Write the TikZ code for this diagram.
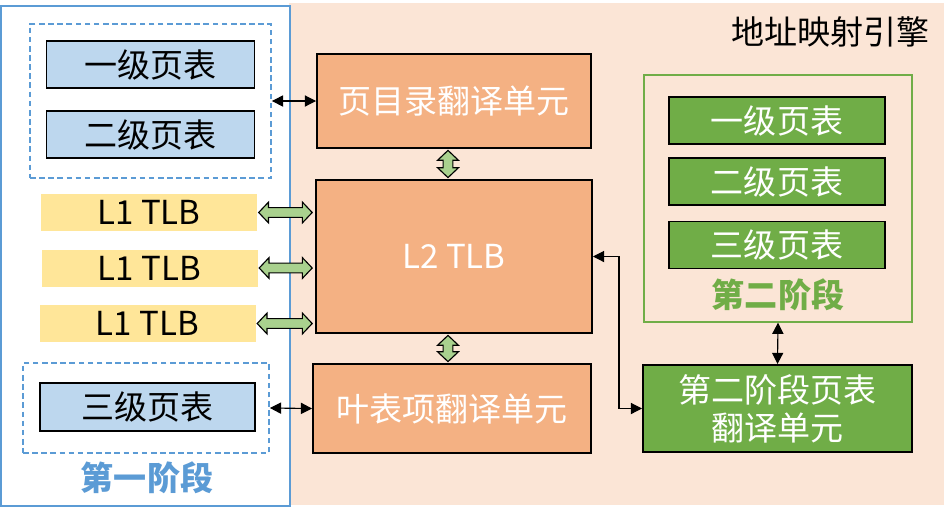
\documentclass[tikz,border=0pt]{standalone}
\usepackage{fontspec}
\setmainfont{Noto Sans CJK SC}
\usetikzlibrary{arrows.meta, positioning, calc}
\definecolor{amepeach}{HTML}{FBE5D6}
\definecolor{ameorange}{HTML}{F4B183}
\definecolor{ameblue}{HTML}{5B9BD5}
\definecolor{amelblue}{HTML}{BDD7EE}
\definecolor{ameyellow}{HTML}{FFE699}
\definecolor{amegreen}{HTML}{70AD47}
\definecolor{amelgreen}{HTML}{A9D18E}
\newcommand{\cnfont}{\fontsize{23.5}{27}\selectfont}
\tikzset{
  unit/.style={rectangle, draw=black, line width=1.4pt, fill=ameorange, text=white,
    font=\cnfont, align=center, inner sep=0pt},
  ptable/.style={rectangle, draw=black, line width=1.4pt, fill=amelblue, minimum width=5.2cm,
    minimum height=1.175cm, font=\cnfont, inner sep=0pt},
  gtable/.style={rectangle, draw=black, line width=1.4pt, fill=amegreen, text=white,
    minimum width=5.4cm, minimum height=1.175cm, font=\cnfont, inner sep=0pt},
  tlb/.style={rectangle, fill=ameyellow, minimum width=5.4cm, minimum height=0.925cm,
    font=\cnfont, inner sep=0pt},
  dashbox/.style={rectangle, draw=ameblue, line width=1.3pt, dash pattern=on 4pt off 2.5pt, inner sep=0pt},
  stagelabel/.style={font=\cnfont\bfseries, inner sep=0pt},
  arr/.style={{Triangle[length=2.8mm, width=2.8mm]}-{Triangle[length=2.8mm, width=2.8mm]},
    line width=0.8pt, black},
  fatarr/.style={draw=black, line width=0.8pt, fill=amelgreen, line join=miter},
}

\begin{document}
\begin{tikzpicture}
  \useasboundingbox (0,0) rectangle (23.725,-12.975);
  % containers
  \node[rectangle, fill=amepeach, minimum width=16.375cm, minimum height=12.55cm, inner sep=0pt]
    (engine) at (15.4125,-6.35) {};
  \node[rectangle, draw=ameblue, fill=white, line width=1.2pt, minimum width=7.225cm,
    minimum height=12.5cm, inner sep=0pt] (stagea) at (3.6375,-6.4) {};
  \node[anchor=east, font=\cnfont, inner sep=0pt] (title) at (23.25,-0.8) {地址映射引擎};

  % first stage
  \node[dashbox, minimum width=6.025cm, minimum height=3.85cm] (dasha) at (3.7625,-2.525) {};
  \node[ptable] (pta) at (3.7625,-1.6125) {一级页表};
  \node[ptable] (ptb) at (3.7625,-3.3625) {二级页表};
  \node[tlb] (tlba) at (3.725,-5.3125) {L1 TLB};
  \node[tlb] (tlbb) at (3.7375,-6.7) {L1 TLB};
  \node[tlb] (tlbc) at (3.6875,-8.0875) {L1 TLB};
  \node[dashbox, minimum width=6.15cm, minimum height=2.25cm] (dashb) at (3.65,-10.2) {};
  \node[ptable, minimum width=5.375cm, minimum height=1.2cm] (ptc) at (3.6875,-10.175) {三级页表};
  \node[stagelabel, text=ameblue] (stagealabel) at (3.675,-11.95) {第一阶段};

  % translation units
  \node[unit, minimum width=6.85cm, minimum height=2.35cm] (dir) at (11.35,-2.525) {页目录翻译单元};
  \node[unit, minimum width=6.9cm, minimum height=3.825cm] (l2) at (11.35,-6.4125) {L2 TLB};
  \node[unit, minimum width=6.95cm, minimum height=2.225cm] (leaf) at (11.3,-10.2125) {叶表项翻译单元};

  % second stage
  \node[rectangle, draw=amegreen, line width=1pt, minimum width=6.7cm, minimum height=6.175cm,
    inner sep=0pt] (stageb) at (19.45,-4.9625) {};
  \node[gtable] (gta) at (19.425,-3.0125) {一级页表};
  \node[gtable] (gtb) at (19.425,-4.5375) {二级页表};
  \node[gtable] (gtc) at (19.425,-6.125) {三级页表};
  \node[stagelabel, text=amegreen] (stageblabel) at (19.45,-7.375) {第二阶段};
  \node[unit, fill=amegreen, minimum width=6.725cm, minimum height=2.175cm] (s2u)
    at (19.4375,-10.2125) {第二阶段页表\\翻译单元};

  % links
  \draw[arr] (dasha.east) -- (dir.west);
  \draw[arr] (dashb.east) -- (leaf.west);
  \draw[arr] (stageb.south) -- (s2u.north);
  \draw[arr] (l2.east) -- ++(0.65,0) |- (s2u.west);
  \foreach \a in {tlba, tlbb, tlbc}
    \draw[fatarr] let \p1=(\a.east), \p2=(l2.west) in
      (\x1+1pt,\y1) -- (\x1+8pt,\y1+7.4pt) -- (\x1+8pt,\y1+3.5pt) -- (\x2-9pt,\y1+3.5pt)
      -- (\x2-9pt,\y1+7.4pt) -- (\x2-2pt,\y1) -- (\x2-9pt,\y1-7.4pt) -- (\x2-9pt,\y1-3.5pt)
      -- (\x1+8pt,\y1-3.5pt) -- (\x1+8pt,\y1-7.4pt) -- cycle;
  \foreach \a/\b in {dir/l2, l2/leaf}
    \draw[fatarr] let \p1=($(\a.south)+(-0.15,0)$), \p2=(\b.north) in
      (\x1,\y1-1pt) -- (\x1+7.4pt,\y1-8pt) -- (\x1+3.5pt,\y1-8pt) -- (\x1+3.5pt,\y2+8pt)
      -- (\x1+7.4pt,\y2+8pt) -- (\x1,\y2+1pt) -- (\x1-7.4pt,\y2+8pt) -- (\x1-3.5pt,\y2+8pt)
      -- (\x1-3.5pt,\y1-8pt) -- (\x1-7.4pt,\y1-8pt) -- cycle;
\end{tikzpicture}
\end{document}
